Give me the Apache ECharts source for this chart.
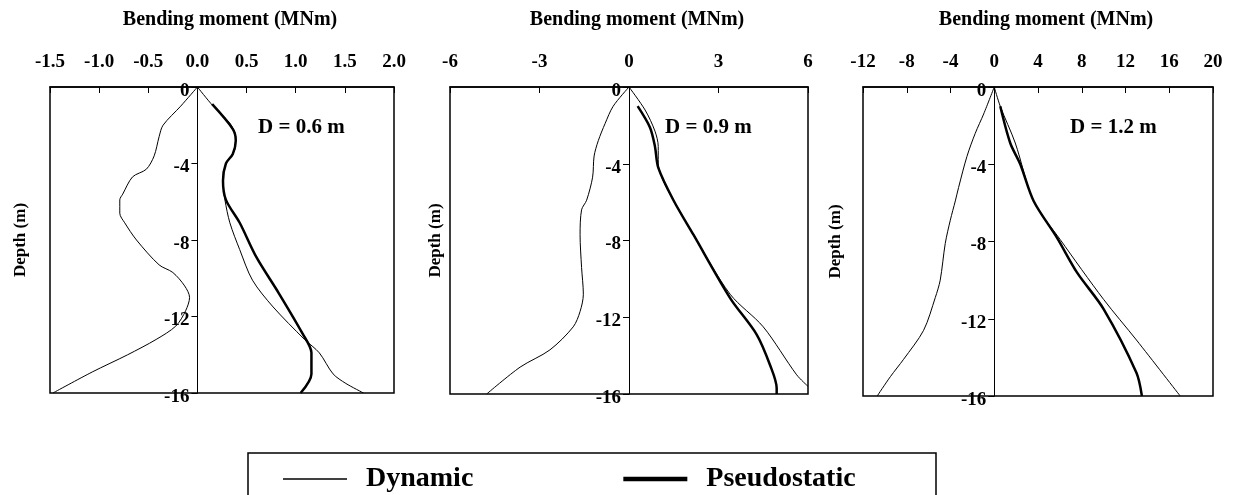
<!DOCTYPE html>
<html>
<head>
<meta charset="utf-8">
<script src="https://cdn.jsdelivr.net/npm/echarts@6/dist/echarts.min.js"></script>
<style>
  html, body { margin: 0; padding: 0; background: #fff; }
  #main { width: 1233px; height: 495px; }
</style>
</head>
<body>
<div id="main"></div>
<script>
// D = 0.6 m
var dyn06MinDepth = [0, -1.0, -2.0, -2.6, -3.6, -4.3, -4.7, -5.6, -5.9, -6.6, -7.1, -8.0, -9.3, -9.7, -10.4, -11.0, -11.7, -12.5, -13.2, -14.0, -14.9, -16];
var dyn06Min = [0, -0.17, -0.35, -0.39, -0.44, -0.52, -0.66, -0.76, -0.79, -0.79, -0.74, -0.62, -0.39, -0.25, -0.13, -0.08, -0.12, -0.22, -0.42, -0.71, -1.07, -1.47];
var dyn06MaxDepth = [0, -1.0, -1.9, -2.6, -3.3, -4.0, -4.9, -5.9, -7.1, -8.5, -10.1, -11.5, -13.2, -13.9, -15.0, -15.5, -16];
var dyn06Max = [0, 0.16, 0.33, 0.39, 0.38, 0.29, 0.26, 0.28, 0.33, 0.43, 0.56, 0.77, 1.09, 1.24, 1.38, 1.51, 1.69];
var ps06Depth = [-0.9, -2.2, -2.8, -3.5, -4.0, -4.9, -5.9, -7.1, -8.9, -10.8, -12.9, -13.9, -15.0, -16];
var ps06 = [0.15, 0.36, 0.39, 0.36, 0.29, 0.26, 0.29, 0.43, 0.60, 0.83, 1.07, 1.16, 1.16, 1.05];

// D = 0.9 m
var dyn09MinDepth = [0, -1.0, -1.9, -2.8, -3.6, -4.7, -5.9, -6.4, -7.7, -9.4, -10.8, -11.7, -12.5, -13.7, -14.6, -16];
var dyn09Min = [0, -0.53, -0.80, -1.03, -1.17, -1.22, -1.42, -1.59, -1.64, -1.59, -1.53, -1.64, -1.87, -2.65, -3.65, -4.77];
var dyn09MaxDepth = [0, -1.2, -2.3, -3.1, -4.0, -4.9, -5.9, -7.7, -10.8, -12.5, -15.0, -15.6];
var dyn09Max = [0, 0.54, 0.87, 0.98, 0.98, 1.15, 1.49, 2.16, 3.39, 4.5, 5.62, 6.0];
var ps09Depth = [-1.0, -2.1, -3.1, -4.2, -5.9, -7.7, -11.0, -12.9, -14.5, -15.7, -16];
var ps09 = [0.29, 0.70, 0.87, 0.98, 1.49, 2.16, 3.39, 4.28, 4.73, 4.95, 4.95];

// D = 1.2 m
var dyn12MinDepth = [0, -1.4, -2.4, -3.6, -5.2, -5.9, -6.9, -8.1, -10.0, -10.9, -12.6, -14.1, -15.0, -16];
var dyn12Min = [0, -0.97, -1.74, -2.5, -3.26, -3.56, -4.02, -4.48, -4.94, -5.39, -6.46, -8.29, -9.5, -10.7];
var dyn12MaxDepth = [0, -1.0, -2.9, -5.9, -7.9, -11.0, -13.1, -16];
var dyn12Max = [0, 0.55, 1.92, 3.6, 6.03, 10.0, 13.0, 17.0];
var ps12Depth = [-1.0, -2.9, -4.0, -5.9, -7.8, -9.6, -11.5, -14.8, -16];
var ps12 = [0.55, 1.46, 2.38, 3.6, 5.73, 7.56, 10.0, 13.0, 13.5];

var panelLabels = ['D = 0.6 m', 'D = 0.9 m', 'D = 1.2 m'];
var xMin = [-1.5, -6, -12];
var xMax = [2.0, 6, 20];
var xStep = [0.5, 3, 4];
var xDigits = [1, 0, 0];

var FONT = "'Liberation Serif', 'Times New Roman', serif";

function pairs(xs, ys) {
  return xs.map(function (v, i) { return [v, ys[i]]; });
}

var grids = [
  { left: 50, top: 87, width: 344, height: 306 },
  { left: 450, top: 87, width: 358, height: 307 },
  { left: 863, top: 87, width: 350, height: 309 }
];
var yNameGap = [168, 185, 150];

var xAxes = [], yAxes = [];
for (var i = 0; i < 3; i++) {
  grids[i].show = true;
  grids[i].borderColor = '#000';
  grids[i].borderWidth = 1.5;
  grids[i].outerBoundsMode = 'none';
  grids[i].containLabel = false;
  (function (k) {
    // depth axis drawn at x = 0, moved inside the box
    var zeroShift = grids[k].width * (0 - xMin[k]) / (xMax[k] - xMin[k]);
    xAxes.push({
      type: 'value', gridIndex: k, position: 'top',
      min: xMin[k], max: xMax[k], interval: xStep[k],
      name: 'Bending moment (MNm)', nameLocation: 'middle', nameGap: 57,
      nameTextStyle: { fontFamily: FONT, fontWeight: 'bold', fontSize: 20, color: '#000', padding: [0, 0, 0, 16] },
      axisLine: { show: true, onZero: false, lineStyle: { color: '#000', width: 1.5 } },
      axisTick: { inside: true, length: 6, lineStyle: { color: '#000' } },
      axisLabel: {
        margin: 15, fontFamily: FONT, fontWeight: 'bold', fontSize: 19, color: '#000',
        formatter: function (v) { return v.toFixed(xDigits[k]); }
      },
      splitLine: { show: false }
    });
    yAxes.push({
      type: 'value', gridIndex: k, position: 'left', offset: -zeroShift,
      min: -16, max: 0, interval: 4,
      name: 'Depth (m)', nameLocation: 'middle', nameGap: yNameGap[k],
      nameTextStyle: { fontFamily: FONT, fontWeight: 'bold', fontSize: 17, color: '#000' },
      axisLine: { show: true, onZero: false, lineStyle: { color: '#000', width: 1 } },
      axisTick: { length: 6, lineStyle: { color: '#000' } },
      axisLabel: {
        margin: 8, color: '#000',
        formatter: function (v) { return '{d|' + v + '}'; },
        rich: { d: { fontFamily: FONT, fontWeight: 'bold', fontSize: 19, color: '#000', padding: [8, 0, 0, 0] } }
      },
      splitLine: { show: false }
    });
  })(i);
}

var sets = [
  [pairs(dyn06Min, dyn06MinDepth), pairs(dyn06Max, dyn06MaxDepth), pairs(ps06, ps06Depth)],
  [pairs(dyn09Min, dyn09MinDepth), pairs(dyn09Max, dyn09MaxDepth), pairs(ps09, ps09Depth)],
  [pairs(dyn12Min, dyn12MinDepth), pairs(dyn12Max, dyn12MaxDepth), pairs(ps12, ps12Depth)]
];

var series = [];
sets.forEach(function (s, k) {
  series.push({ name: 'Dynamic', type: 'line', xAxisIndex: k, yAxisIndex: k, data: s[0], symbol: 'none', smooth: 0.3, color: '#000', lineStyle: { color: '#000', width: 1 } });
  series.push({ name: 'Dynamic', type: 'line', xAxisIndex: k, yAxisIndex: k, data: s[1], symbol: 'none', smooth: 0.3, color: '#000', lineStyle: { color: '#000', width: 1 } });
  series.push({ name: 'Pseudostatic', type: 'line', xAxisIndex: k, yAxisIndex: k, data: s[2], symbol: 'none', smooth: 0.3, color: '#000', lineStyle: { color: '#000', width: 2.5 } });
});

var labelPos = [[258, 117], [665, 117], [1070, 117]];
var titles = panelLabels.map(function (t, k) {
  return { text: t, left: labelPos[k][0], top: labelPos[k][1], padding: 0,
    textStyle: { fontFamily: FONT, fontWeight: 'bold', fontSize: 21, color: '#000' } };
});

var myChart = echarts.init(document.getElementById('main'));
myChart.setOption({
  animation: false,
  backgroundColor: '#fff',
  title: titles,
  grid: grids,
  xAxis: xAxes,
  yAxis: yAxes,
  legend: {
    left: 278, top: 460,
    itemWidth: 64, itemHeight: 14, itemGap: 150,
    data: [
      { name: 'Dynamic', icon: 'path://M0,0L64,0L64,1.5L0,1.5Z' },
      { name: 'Pseudostatic', icon: 'path://M0,0L60,0L60,4L0,4Z' }
    ],
    itemStyle: { color: '#000' },
    textStyle: { fontFamily: FONT, fontWeight: 'bold', fontSize: 28, color: '#000', padding: [0, 0, 0, 14] }
  },
  graphic: [
    { type: 'rect', shape: { x: 248, y: 453, width: 688, height: 60 }, style: { fill: 'none', stroke: '#000', lineWidth: 1.5 } }
  ],
  series: series
});
</script>
</body>
</html>
